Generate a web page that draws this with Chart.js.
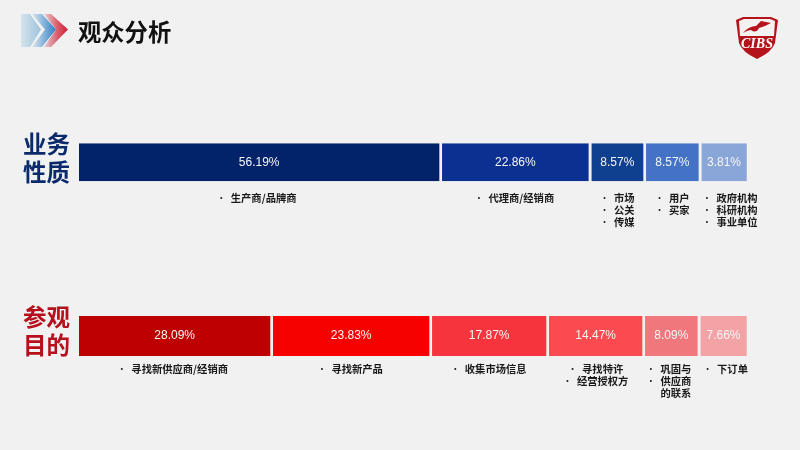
<!DOCTYPE html>
<html><head><meta charset="utf-8">
<script src="https://cdn.jsdelivr.net/npm/chart.js@4"></script>
<style>
html,body{margin:0;padding:0;background:#f1f1f1;width:800px;height:450px;overflow:hidden}
#wrap{position:relative;width:800px;height:450px}
canvas{position:absolute;left:0;top:0}
#title{position:absolute;left:78px;top:14px;font:bold 23.3px/34px "Noto Sans CJK SC";color:#111}
svg{position:absolute}
</style></head><body>
<div id="wrap">
<canvas id="c" width="800" height="450"></canvas>
<svg style="left:18px;top:10px" width="54" height="42" viewBox="0 0 54 42">
<defs>
<linearGradient id="g1" x1="0" x2="1"><stop offset="0" stop-color="#e6cfd4"/><stop offset="0.55" stop-color="#d9606f"/><stop offset="1" stop-color="#d01f30"/></linearGradient>
<linearGradient id="g2" x1="0" x2="1"><stop offset="0" stop-color="#dbe6ee"/><stop offset="1" stop-color="#2f80c6"/></linearGradient>
<linearGradient id="g3" x1="0" x2="1"><stop offset="0" stop-color="#d5e3ec"/><stop offset="1" stop-color="#9cc3de"/></linearGradient>
</defs>
<path d="M26 4H33L50 19.5L33 37H26L38 19.5Z" fill="url(#g1)"/>
<path d="M14 4H24L38 19.5L24 37H14L27 19.5Z" fill="url(#g2)"/>
<path d="M3 4H12L23 19.5L12 37H3Z" fill="url(#g3)"/>
</svg>
<div id="title">观众分析</div>
<svg style="left:734px;top:15px" width="46" height="46" viewBox="0 0 46 46">
<path d="M2 5L9 2H37L44 5L41 28Q38 37 23 44Q8 37 5 28Z" fill="#b5121b"/>
<path d="M5 6L10 4H36L41 6L40 21H6Z" fill="#f4f2f0"/>
<path d="M9 18Q15 11 22 11L27 6L37 8L31 11L25 13Q22 19 17 15Q14 15 9 18Z" fill="#b5121b"/>
<text x="23" y="33" text-anchor="middle" font-family="Liberation Serif" font-style="italic" font-weight="bold" font-size="14" fill="#fff">CIBS</text>
</svg>
</div>
<script>
// Printed percentages
const topValues = [56.19, 22.86, 8.57, 8.57, 3.81];
const bottomValues = [28.09, 23.83, 17.87, 14.47, 8.09, 7.66];
// Segment lengths as drawn in the picture (share of the strip); the reference does not
// draw them strictly in proportion to the printed percentages.
const topLengths = [54.15, 22.27, 8.16, 8.25, 7.17];
const bottomLengths = [28.94, 23.72, 17.45, 14.32, 8.25, 7.32];
const categories = [['业务','性质'], ['参观','目的']];
const topNotes = [['生产商/品牌商'], ['代理商/经销商'], ['市场','公关','传媒'], ['用户','买家'], ['政府机构','科研机构','事业单位']];
const bottomNotes = [['寻找新供应商/经销商'], ['寻找新产品'], ['收集市场信息'], ['寻找特许','经营授权方'], ['巩固与','供应商','的联系'], ['下订单']];

// Styling
const BG = '#f1f1f1';
const topColors = ['#02226a','#0c2f92','#0f3f8f','#4472c4','#8aa5d8'];
const bottomColors = ['#bd0000','#f70000','#f5343e','#fb4a50','#f0777b','#f3a2a5'];
const topNudge = [4.5, 6, 7, 7, 13];
const bottomNudge = [5, 6, 6.5, 7, 4.5, 9];
const noBullet = new Set(['的联系']);

function mk(lengths, values, colors, notes, nudge, row, thick){
  return lengths.map((v,i)=>({
    data: row===0 ? [v,null] : [null,v],
    backgroundColor: colors[i], borderColor: BG,
    borderWidth:{left:0,top:0,bottom:0,right:2.7}, borderSkipped:false, inflateAmount:0,
    barThickness: thick, stack:'s',
    printed: values[i], notes: notes[i], nudge: nudge[i], row
  }));
}
const datasets = [
  ...mk(topLengths, topValues, topColors, topNotes, topNudge, 0, 38),
  ...mk(bottomLengths, bottomValues, bottomColors, bottomNotes, bottomNudge, 1, 40)
];
const labelPlugin = {
  id:'labels',
  afterDatasetsDraw(chart){
    const ctx = chart.ctx; ctx.save();
    chart.data.datasets.forEach((ds,i)=>{
      const el = chart.getDatasetMeta(i).data[ds.row];
      const cx = (el.base + el.x - 2.7)/2;
      ctx.textBaseline='middle'; ctx.textAlign='center';
      ctx.fillStyle='#f6f6f6'; ctx.font='12px "Liberation Sans"';
      ctx.fillText(ds.printed.toFixed(2)+'%', cx, el.y);
      ctx.font='bold 10.3px "Noto Sans CJK SC"'; ctx.fillStyle='#1a1a1a';
      const y0 = ds.row===0 ? 198 : 369;
      ds.notes.forEach((t,k)=>{
        const y = y0 + k*12, tx = cx + ds.nudge;
        ctx.textAlign='center'; ctx.fillText(t, tx, y);
        if(!noBullet.has(t)){
          const w = ctx.measureText(t).width;
          ctx.beginPath(); ctx.arc(tx - w/2 - 9.5, y, 1, 0, Math.PI*2); ctx.fill();
        }
      });
    });
    ctx.restore();
  }
};
new Chart(document.getElementById('c'),{
  type:'bar',
  data:{labels:categories, datasets},
  options:{
    indexAxis:'y', responsive:false, animation:false,
    layout:{padding:{left:0,right:50.6,top:75.45,bottom:27.15}},
    plugins:{legend:{display:false},title:{display:false},tooltip:{enabled:false}},
    scales:{
      x:{stacked:true,min:0,max:100,display:false},
      y:{stacked:true,
        grid:{display:false,drawTicks:false},border:{display:false},
        afterFit(s){s.width=79;s.paddingTop=0;s.paddingBottom=0;},
        ticks:{padding:9,labelOffset:-4.5,
          font:{family:'"Noto Sans CJK SC"',weight:'bold',size:23.5,lineHeight:1.19},
          color:c=>c.index===0?'#0b2a6b':'#b5101c'}
      }
    }
  },
  plugins:[labelPlugin]
});
</script>
</body></html>
